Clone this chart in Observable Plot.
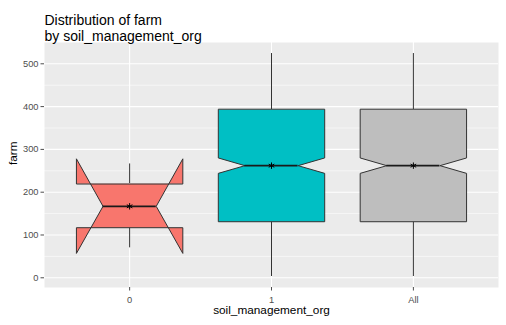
<!DOCTYPE html>
<html>
<head>
<meta charset="utf-8">
<script src="https://cdn.jsdelivr.net/npm/d3@7"></script>
<script src="https://cdn.jsdelivr.net/npm/@observablehq/plot@0.6"></script>
<style>
  html, body { margin: 0; padding: 0; background: white; }
</style>
</head>
<body>
<div id="chart"></div>
<script>
// ---- data ----
const categories = ["0", "1", "All"];
const q1 = [117, 131, 131];
const median = [167, 262, 262];
const q3 = [220, 393, 393];
const notchLow = [57, 244, 244];
const notchHigh = [278, 280, 280];
const whiskerLow = [70, 3, 3];
const whiskerHigh = [266, 524, 524];
const mean = [167, 262, 262];
const yMajorTicks = [0, 100, 200, 300, 400, 500];
const yMinorTicks = [50, 150, 250, 350, 450];
const fillColors = ["#F8766D", "#00BFC4", "#BEBEBE"];

// ---- geometry (ggplot defaults) ----
const boxWidth = 0.75, notchWidth = 0.5;
const idx = categories.map((_, i) => i);
const pos = i => i + 1;
const hw = boxWidth / 2;
const indent = (1 - notchWidth) * boxWidth / 2;

const poly = idx.flatMap(i => {
  const g = categories[i], xmin = pos(i) - hw, xmax = pos(i) + hw;
  return [
    {g, x: xmin, y: q3[i]},
    {g, x: xmin, y: notchHigh[i]},
    {g, x: xmin + indent, y: median[i]},
    {g, x: xmin, y: notchLow[i]},
    {g, x: xmin, y: q1[i]},
    {g, x: xmax, y: q1[i]},
    {g, x: xmax, y: notchLow[i]},
    {g, x: xmax - indent, y: median[i]},
    {g, x: xmax, y: notchHigh[i]},
    {g, x: xmax, y: q3[i]}
  ];
});

const font = "'Liberation Sans', Arial, sans-serif";

const chart = Plot.plot({
  width: 506,
  height: 325,
  marginTop: 42,
  marginLeft: 44,
  marginRight: 8,
  marginBottom: 38,
  style: {fontFamily: font, background: "white"},
  x: {domain: [0.4, 3.6], axis: null},
  y: {domain: [-22.7, 549.8], axis: null},
  color: {domain: categories, range: fillColors},
  marks: [
    Plot.frame({fill: "#EBEBEB", stroke: "none"}),
    Plot.ruleY(yMinorTicks, {stroke: "white", strokeWidth: 0.55}),
    Plot.ruleY(yMajorTicks, {stroke: "white", strokeWidth: 1.1}),
    Plot.ruleX(idx.map(pos), {stroke: "white", strokeWidth: 1.1}),
    Plot.axisY({ticks: yMajorTicks, tickSize: 3.5, tickPadding: 2.5, fontSize: 9.3, color: "#4D4D4D", label: null}),
    Plot.axisX({ticks: idx.map(pos), tickFormat: d => categories[d - 1], tickSize: 3.5, tickPadding: 5, fontSize: 9.3, color: "#4D4D4D", label: null}),
    // whiskers
    Plot.ruleX(idx, {x: pos, y1: i => q3[i], y2: i => whiskerHigh[i], stroke: "#333333", strokeWidth: 1}),
    Plot.ruleX(idx, {x: pos, y1: i => q1[i], y2: i => whiskerLow[i], stroke: "#333333", strokeWidth: 1}),
    // notched boxes
    Plot.line(poly, {x: "x", y: "y", z: "g", fill: "g", stroke: "#333333", strokeWidth: 1, curve: "linear-closed"}),
    // medians
    Plot.ruleY(idx, {y: i => median[i], x1: i => pos(i) - hw + indent, x2: i => pos(i) + hw - indent, stroke: "#1a1a1a", strokeWidth: 1.8}),
    // means
    Plot.dot(idx, {x: pos, y: i => mean[i], symbol: "asterisk", r: 3, stroke: "black", strokeWidth: 1}),
    // titles
    Plot.text(["Distribution of farm"], {frameAnchor: "top-left", textAnchor: "start", dy: -27.5, fontSize: 14, fill: "black"}),
    Plot.text(["by soil_management_org"], {frameAnchor: "top-left", textAnchor: "start", dy: -11.5, fontSize: 14, fill: "black"}),
    Plot.text(["farm"], {frameAnchor: "left", rotate: -90, dx: -31, dy: 0, fontSize: 11.8, fill: "black"}),
    Plot.text(["soil_management_org"], {frameAnchor: "bottom", dy: 26.2, fontSize: 11.8, fill: "black"})
  ]
});
document.getElementById("chart").appendChild(chart);
</script>
</body>
</html>
